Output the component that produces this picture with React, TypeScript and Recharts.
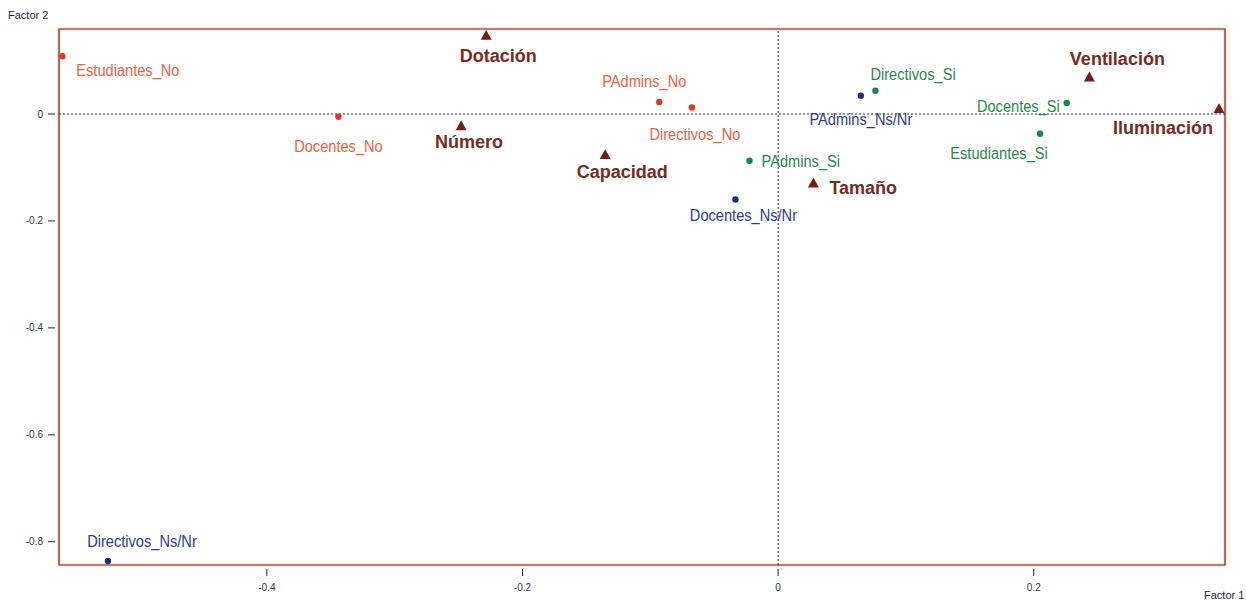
import React from "react";
import {
  ScatterChart,
  Scatter,
  XAxis,
  YAxis,
  ReferenceLine,
  ReferenceArea,
} from "recharts";

// ---- Data (Factor 1 = x, Factor 2 = y) ----
const noLabels = ["Estudiantes_No", "Docentes_No", "PAdmins_No", "Directivos_No"];
const noF1 = [-0.56, -0.344, -0.093, -0.0675];
const noF2 = [0.108, -0.005, 0.0225, 0.0124];

const siLabels = ["Directivos_Si", "Docentes_Si", "Estudiantes_Si", "PAdmins_Si"];
const siF1 = [0.0761, 0.2258, 0.2049, -0.0224];
const siF2 = [0.0436, 0.0206, -0.0369, -0.0874];

const nsnrLabels = ["Directivos_Ns/Nr", "PAdmins_Ns/Nr", "Docentes_Ns/Nr"];
const nsnrF1 = [-0.5243, 0.0647, -0.0334];
const nsnrF2 = [-0.836, 0.0343, -0.16];

const varLabels = ["Dotación", "Número", "Capacidad", "Tamaño", "Ventilación", "Iluminación"];
const varF1 = [-0.2284, -0.248, -0.1353, 0.0276, 0.2435, 0.3449];
const varF2 = [0.147, -0.022, -0.076, -0.129, 0.069, 0.0099];

const xTicks = [-0.4, -0.2, 0, 0.2];
const yTicks = [0, -0.2, -0.4, -0.6, -0.8];
const xDomain: [number, number] = [-0.5626, 0.3496];
const yDomain: [number, number] = [-0.8435, 0.159];

const toRows = (labels: string[], xs: number[], ys: number[]) =>
  labels.map((name, i) => ({ name, f1: xs[i], f2: ys[i] }));

// ---- Label placement (pixel offsets from the mark) ----
type Place = { dx: number; dy: number; anchor: "start" | "middle" | "end" };
const labelPlace: Record<string, Place> = {
  Estudiantes_No: { dx: 14, dy: 14, anchor: "start" },
  Docentes_No: { dx: 0, dy: 29, anchor: "middle" },
  PAdmins_No: { dx: -15, dy: -21, anchor: "middle" },
  Directivos_No: { dx: 3, dy: 27, anchor: "middle" },
  Directivos_Si: { dx: -5, dy: -17, anchor: "start" },
  Docentes_Si: { dx: -7, dy: 3, anchor: "end" },
  Estudiantes_Si: { dx: -41, dy: 19, anchor: "middle" },
  PAdmins_Si: { dx: 12, dy: 0, anchor: "start" },
  "Directivos_Ns/Nr": { dx: 34, dy: -20, anchor: "middle" },
  "PAdmins_Ns/Nr": { dx: 0, dy: 23, anchor: "middle" },
  "Docentes_Ns/Nr": { dx: 8, dy: 16, anchor: "middle" },
  Dotación: { dx: 12, dy: 21, anchor: "middle" },
  Número: { dx: 8, dy: 16, anchor: "middle" },
  Capacidad: { dx: 17, dy: 17, anchor: "middle" },
  Tamaño: { dx: 16, dy: 5, anchor: "start" },
  Ventilación: { dx: 28, dy: -18, anchor: "middle" },
  Iluminación: { dx: -56, dy: 19, anchor: "middle" },
};

const baseFont = "'Liberation Sans', Arial, sans-serif";

const makeDot = (dotColor: string, textColor: string) => (props: any) => {
  const { cx, cy, payload } = props;
  const p = labelPlace[payload.name] || { dx: 0, dy: 15, anchor: "middle" };
  return (
    <g>
      <circle cx={cx} cy={cy} r={3.2} fill={dotColor} />
      <text
        x={0}
        y={0}
        transform={`translate(${cx + p.dx},${cy + p.dy}) scale(0.86,1)`}
        textAnchor={p.anchor}
        dominantBaseline="central"
        fontFamily={baseFont}
        fontSize={17}
        fill={textColor}
      >
        {payload.name}
      </text>
    </g>
  );
};

const triangleShape = (props: any) => {
  const { cx, cy, payload } = props;
  const p = labelPlace[payload.name] || { dx: 0, dy: 15, anchor: "middle" };
  const s = 5.5;
  return (
    <g>
      <polygon
        points={`${cx},${cy - s} ${cx - s},${cy + s * 0.8} ${cx + s},${cy + s * 0.8}`}
        fill="#7a1c12"
      />
      <text
        x={cx + p.dx}
        y={cy + p.dy}
        textAnchor={p.anchor}
        dominantBaseline="central"
        fontFamily={baseFont}
        fontWeight="bold"
        fontSize={18}
        fill="#7a2a1e"
      >
        {payload.name}
      </text>
    </g>
  );
};

const XTick = (props: any) => {
  const { x, y, payload } = props;
  return (
    <g>
      <line x1={x} x2={x} y1={y - 4} y2={y + 3} stroke="#222" strokeWidth={1} />
      <text
        x={x}
        y={y + 14}
        textAnchor="middle"
        dominantBaseline="central"
        fontFamily={baseFont}
        fontSize={10}
        fill="#1d3a4a"
      >
        {payload.value}
      </text>
    </g>
  );
};

const YTick = (props: any) => {
  const { x, y, payload } = props;
  return (
    <g>
      <line x1={x - 3} x2={x + 4} y1={y} y2={y} stroke="#222" strokeWidth={1} />
      <text
        x={x - 8}
        y={y}
        textAnchor="end"
        dominantBaseline="central"
        fontFamily={baseFont}
        fontSize={10}
        fill="#1d3a4a"
      >
        {payload.value}
      </text>
    </g>
  );
};

export default function App() {
  return (
    <div style={{ position: "absolute", left: 0, top: 0, width: 1246, height: 601, background: "#fff" }}>
      <div
        style={{
          position: "absolute",
          left: 8,
          top: 8,
          fontFamily: baseFont,
          fontSize: 11,
          color: "#1a2a30",
          lineHeight: "14px",
        }}
      >
        Factor 2
      </div>
      <div
        style={{
          position: "absolute",
          left: 1204,
          top: 588,
          fontFamily: baseFont,
          fontSize: 11,
          color: "#1a2a30",
          lineHeight: "14px",
        }}
      >
        Factor 1
      </div>
      <ScatterChart
        width={1246}
        height={601}
        margin={{ top: 29, right: 21, bottom: 0, left: 0 }}
      >
        <XAxis
          type="number"
          dataKey="f1"
          domain={xDomain}
          ticks={xTicks}
          height={36}
          axisLine={false}
          tickLine={false}
          tick={<XTick />}
          allowDataOverflow
        />
        <YAxis
          type="number"
          dataKey="f2"
          domain={yDomain}
          ticks={yTicks}
          width={59}
          axisLine={false}
          tickLine={false}
          tick={<YTick />}
          allowDataOverflow
        />
        <ReferenceArea
          x1={xDomain[0]}
          x2={xDomain[1]}
          y1={yDomain[0]}
          y2={yDomain[1]}
          fill="none"
          stroke="#f9d2c4"
          strokeWidth={3}
          ifOverflow="visible"
        />
        <ReferenceArea
          x1={xDomain[0]}
          x2={xDomain[1]}
          y1={yDomain[0]}
          y2={yDomain[1]}
          fill="none"
          stroke="#7a2c1a"
          strokeWidth={1.2}
          ifOverflow="visible"
        />
        <ReferenceLine x={0} stroke="#2a2a2a" strokeDasharray="2 2" />
        <ReferenceLine y={0} stroke="#2a2a2a" strokeDasharray="2 2" />
        <Scatter
          data={toRows(noLabels, noF1, noF2)}
          shape={makeDot("#e8361e", "#f2603e")}
          isAnimationActive={false}
        />
        <Scatter
          data={toRows(siLabels, siF1, siF2)}
          shape={makeDot("#17884a", "#1f8a4a")}
          isAnimationActive={false}
        />
        <Scatter
          data={toRows(nsnrLabels, nsnrF1, nsnrF2)}
          shape={makeDot("#1f2f7a", "#2a3c98")}
          isAnimationActive={false}
        />
        <Scatter
          data={toRows(varLabels, varF1, varF2)}
          shape={triangleShape}
          isAnimationActive={false}
        />
      </ScatterChart>
    </div>
  );
}
